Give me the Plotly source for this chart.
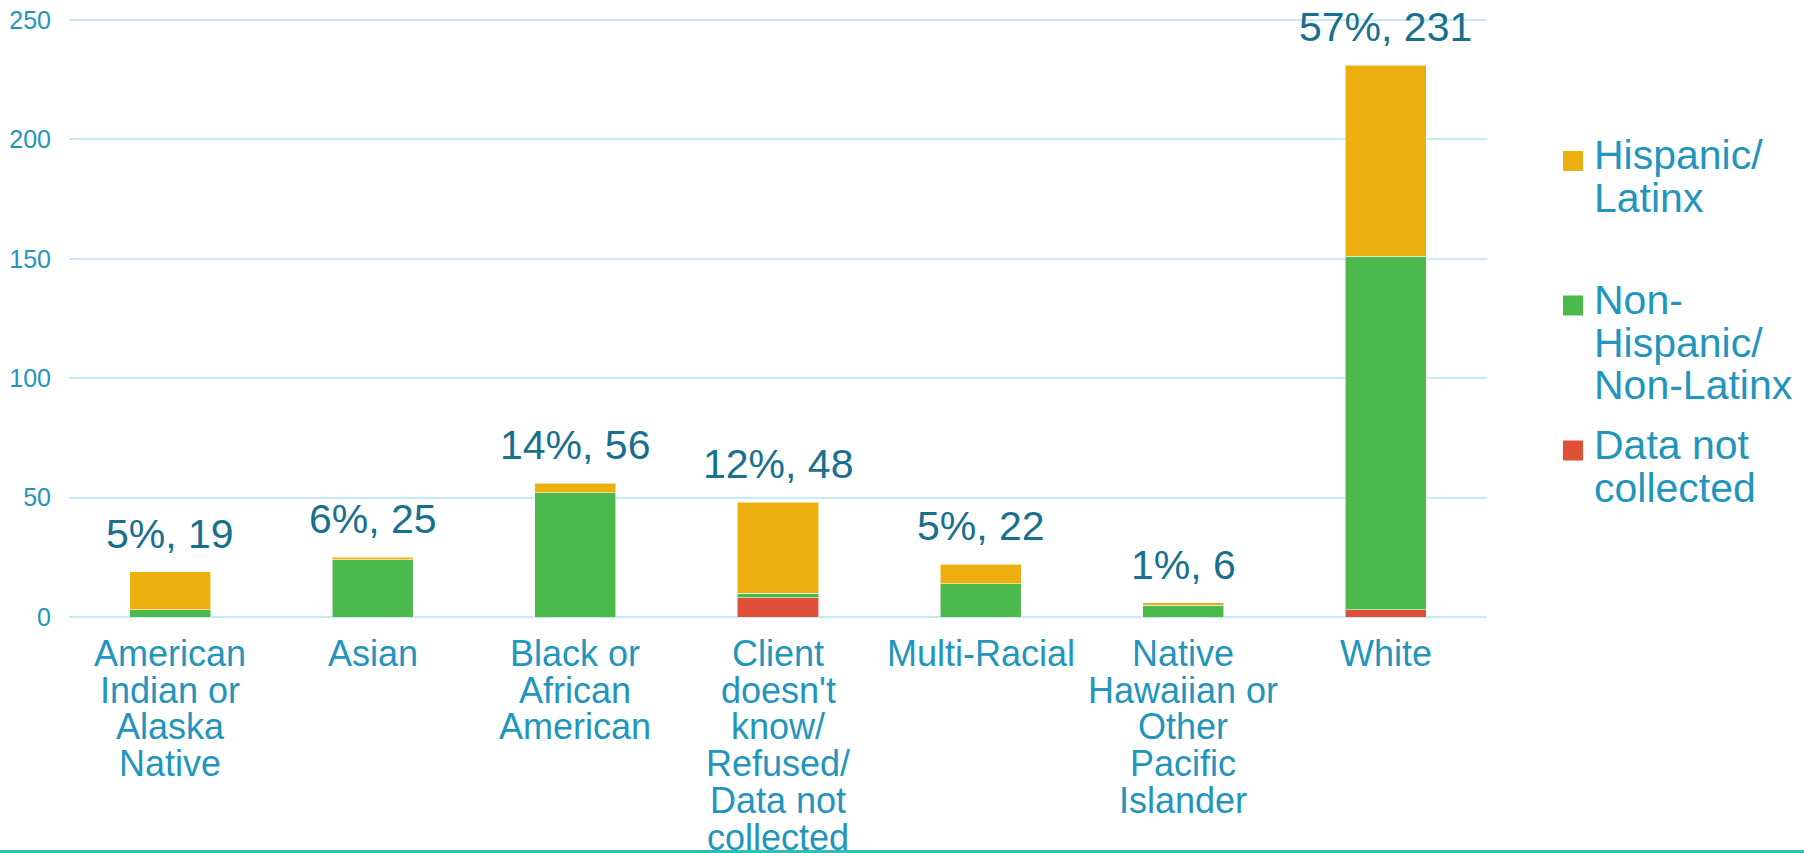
import plotly.graph_objects as go

# ---------------- data ----------------
categories = [
    "American<br>Indian or<br>Alaska<br>Native",
    "Asian",
    "Black or<br>African<br>American",
    "Client<br>doesn't<br>know/<br>Refused/<br>Data not<br>collected",
    "Multi-Racial",
    "Native<br>Hawaiian or<br>Other<br>Pacific<br>Islander",
    "White",
]
not_collected = [0, 0, 0, 8, 0, 0, 3]
non_hispanic = [3, 24, 52, 2, 14, 5, 148]
hispanic = [16, 1, 4, 38, 8, 1, 80]
total_labels = ["5%, 19", "6%, 25", "14%, 56", "12%, 48", "5%, 22", "1%, 6", "57%, 231"]

series_names = ["Hispanic/<br>Latinx", "Non-<br>Hispanic/<br>Non-Latinx", "Data not<br>collected"]
y_ticks = [0, 50, 100, 150, 200, 250]

# ---------------- styling ----------------
W, H = 1804, 853
ML, MR, MT, MB = 69, 317, 18, 236
PW, PH = W - ML - MR, H - MT - MB
Y_TOP = 250.8
FONT = "Liberation Sans, Arial, Helvetica, sans-serif"
C_ORANGE = "#EDAF0F"
C_GREEN = "#4CB94C"
C_RED = "#E05038"
C_TEXT = "#2395BD"
C_LABEL = "#18708E"
C_GRID = "#C6EAF6"

def px2paper_x(p):
    return (p - ML) / PW

def px2paper_y(p):
    return (H - MB - p) / PH

totals = [a + b + c for a, b, c in zip(not_collected, non_hispanic, hispanic)]

fig = go.Figure()
for vals, name, col in [
    (not_collected, series_names[2], C_RED),
    (non_hispanic, series_names[1], C_GREEN),
    (hispanic, series_names[0], C_ORANGE),
]:
    fig.add_trace(go.Bar(
        x=categories, y=vals, name=name,
        marker=dict(color=col, line=dict(color="rgba(255,255,255,0.55)", width=1)),
        width=0.4, showlegend=False,
    ))

annotations = []
# total labels above bars
for cat, tot, lab in zip(categories, totals, total_labels):
    annotations.append(dict(
        x=cat, y=tot, xref="x", yref="y", text=lab, showarrow=False,
        yanchor="bottom", xanchor="center", yshift=13,
        font=dict(family=FONT, size=41, color=C_LABEL),
    ))

# category labels (one annotation per line, tight line spacing)
CAT_FIRST = 36.5
CAT_STEP = 36.7
for cat in categories:
    for i, line in enumerate(cat.split("<br>")):
        annotations.append(dict(
            x=cat, y=0, xref="x", yref="paper", text=line, showarrow=False,
            yanchor="middle", xanchor="center",
            yshift=-(CAT_FIRST + CAT_STEP * i),
            font=dict(family=FONT, size=36, color=C_TEXT),
        ))

# custom legend
legend_cols = [C_ORANGE, C_GREEN, C_RED]
legend_first_center = [155.5, 300.0, 445.0]
LEG_STEP = 42.6
shapes = []
for name, col, yc in zip(series_names, legend_cols, legend_first_center):
    sq = yc + 5.5
    shapes.append(dict(
        type="rect", xref="paper", yref="paper",
        x0=px2paper_x(1563), x1=px2paper_x(1583),
        y0=px2paper_y(sq + 10), y1=px2paper_y(sq - 10),
        fillcolor=col, line=dict(width=0),
    ))
    for i, line in enumerate(name.split("<br>")):
        annotations.append(dict(
            x=px2paper_x(1592), y=px2paper_y(yc + LEG_STEP * i),
            xref="paper", yref="paper", text=line, showarrow=False,
            xanchor="left", yanchor="middle",
            font=dict(family=FONT, size=41, color=C_TEXT),
        ))

# bottom teal rule
shapes.append(dict(
    type="line", xref="paper", yref="paper",
    x0=px2paper_x(0), x1=px2paper_x(W),
    y0=px2paper_y(851.5), y1=px2paper_y(851.5),
    line=dict(color="#2CBFB4", width=3),
))

fig.update_layout(
    width=W, height=H,
    margin=dict(l=ML, r=MR, t=MT, b=MB, pad=0, autoexpand=False),
    paper_bgcolor="white", plot_bgcolor="white",
    barmode="stack", bargap=0.6,
    showlegend=False,
    annotations=annotations, shapes=shapes,
    font=dict(family=FONT, color=C_TEXT),
)
fig.update_xaxes(showticklabels=False, showgrid=False, zeroline=False,
                 showline=False, ticks="", automargin=False)
fig.update_yaxes(range=[0, Y_TOP], tickvals=y_ticks, ticktext=[str(v) for v in y_ticks],
                 showgrid=True, gridcolor=C_GRID, gridwidth=2,
                 zeroline=True, zerolinecolor=C_GRID, zerolinewidth=2,
                 showline=False, ticks="", ticklabelstandoff=17, automargin=False,
                 tickfont=dict(family=FONT, size=25, color=C_TEXT))

fig.write_html("out.html")
